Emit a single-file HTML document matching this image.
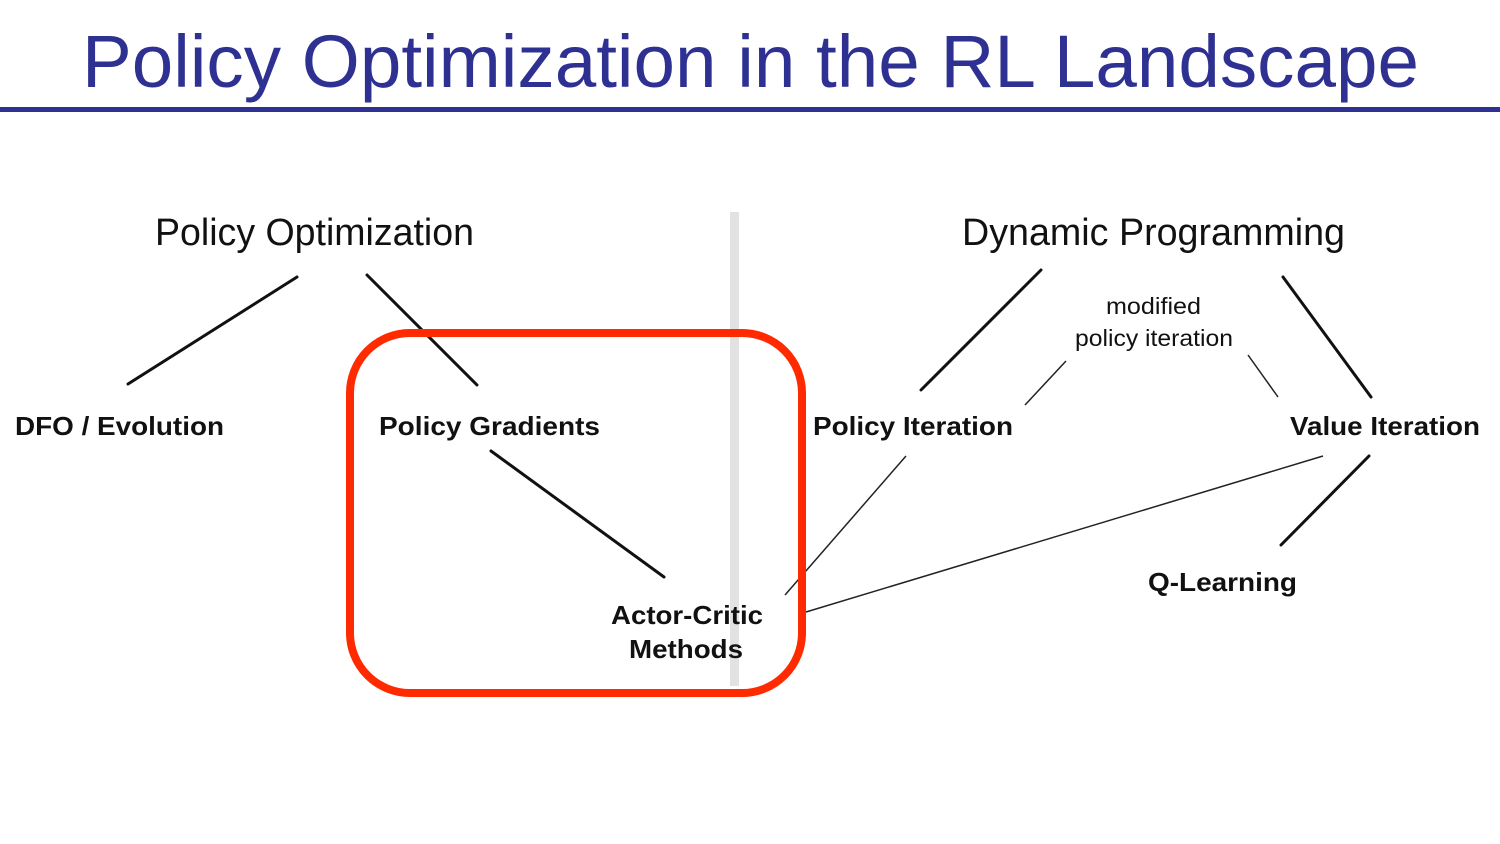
<!DOCTYPE html>
<html><head><meta charset="utf-8"><style>
html,body{margin:0;padding:0;background:#fff;}
svg{display:block;}
</style></head><body>
<svg width="1500" height="844" xmlns="http://www.w3.org/2000/svg">
<rect width="1500" height="844" fill="#fff"/>
<text x="82" y="87" font-family="Liberation Sans, sans-serif" font-size="74" fill="#2e3192" textLength="1337" lengthAdjust="spacingAndGlyphs">Policy Optimization in the RL Landscape</text>
<rect x="0" y="107" width="1500" height="5" fill="#2e3192"/>
<rect x="730" y="212" width="9" height="474" fill="#e2e2e2"/>
<g font-family="Liberation Sans, sans-serif" fill="#111">
<text x="155" y="245" font-size="38" textLength="319" lengthAdjust="spacingAndGlyphs">Policy Optimization</text>
<text x="962" y="245" font-size="38" textLength="383" lengthAdjust="spacingAndGlyphs">Dynamic Programming</text>
<g font-weight="bold" font-size="26">
<text x="15" y="435" textLength="209" lengthAdjust="spacingAndGlyphs">DFO / Evolution</text>
<text x="379" y="435" textLength="221" lengthAdjust="spacingAndGlyphs">Policy Gradients</text>
<text x="813" y="435" textLength="200" lengthAdjust="spacingAndGlyphs">Policy Iteration</text>
<text x="1290" y="435" textLength="190" lengthAdjust="spacingAndGlyphs">Value Iteration</text>
<text x="1148" y="591" textLength="149" lengthAdjust="spacingAndGlyphs">Q-Learning</text>
<text x="611" y="624" textLength="152" lengthAdjust="spacingAndGlyphs">Actor-Critic</text>
<text x="629" y="658" textLength="114" lengthAdjust="spacingAndGlyphs">Methods</text>
</g>
<text x="1106" y="314" font-size="23" textLength="95" lengthAdjust="spacingAndGlyphs">modified</text>
<text x="1075" y="346" font-size="23" textLength="158" lengthAdjust="spacingAndGlyphs">policy iteration</text>
</g>
<g stroke="#111" stroke-width="3" stroke-linecap="round">
<line x1="297" y1="277" x2="128" y2="384"/>
<line x1="367" y1="275" x2="477" y2="385"/>
<line x1="491" y1="451" x2="664" y2="577"/>
<line x1="1041" y1="270" x2="921" y2="390"/>
<line x1="1283" y1="277" x2="1371" y2="397"/>
<line x1="1369" y1="456" x2="1281" y2="545"/>
</g>
<g stroke="#222" stroke-width="1.5">
<line x1="1066" y1="361" x2="1025" y2="405"/>
<line x1="1248" y1="355" x2="1278" y2="397"/>
<line x1="906" y1="456" x2="785" y2="595"/>
<line x1="1323" y1="456" x2="806" y2="612"/>
</g>
<rect x="350" y="333" width="452" height="360" rx="60" ry="60" fill="none" stroke="#ff2a00" stroke-width="8"/>
</svg>
</body></html>
